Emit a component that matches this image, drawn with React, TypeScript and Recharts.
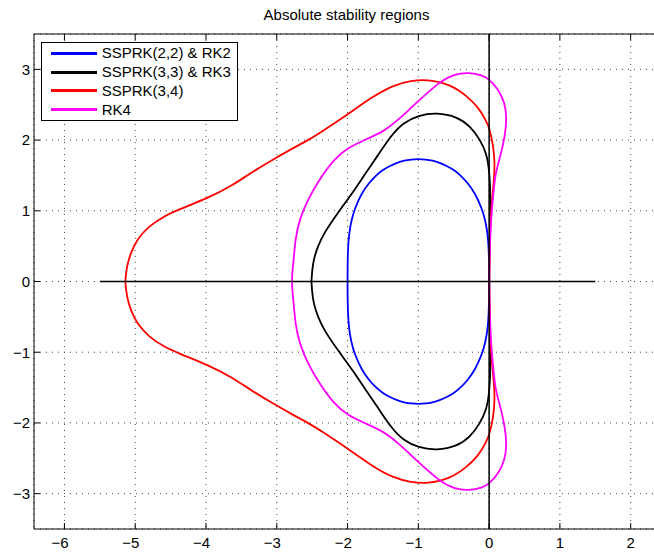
import { LineChart, Line, XAxis, YAxis, CartesianGrid, ReferenceLine } from 'recharts';

type Pt = [number, number];

const xTicks = [-6, -5, -4, -3, -2, -1, 0, 1, 2];
const yTicks = [-3, -2, -1, 0, 1, 2, 3];
const xDomain: [number, number] = [-6.43, 2.4];
const yDomain: [number, number] = [-3.5, 3.5];

// boundaries, closed loops starting at the leftmost point
const rk2: Pt[] = [
  [-2.0, 0.0], [-2.0, 0.2], [-1.995, 0.46], [-1.98, 0.66], [-1.95, 0.85], [-1.9, 1.03],
  [-1.8, 1.25], [-1.7, 1.39], [-1.6, 1.5], [-1.5, 1.58], [-1.4, 1.635], [-1.3, 1.68],
  [-1.2, 1.71], [-1.1, 1.726], [-1.0, 1.732], [-0.9, 1.726], [-0.8, 1.71], [-0.7, 1.68],
  [-0.6, 1.635], [-0.5, 1.58], [-0.4, 1.5], [-0.3, 1.39], [-0.2, 1.25], [-0.1, 1.03],
  [-0.05, 0.85], [-0.02, 0.66], [-0.005, 0.46], [0.0, 0.2], [0.0, 0.0],
  [0.0, -0.2], [-0.005, -0.46], [-0.02, -0.66], [-0.05, -0.85], [-0.1, -1.03], [-0.2, -1.25],
  [-0.3, -1.39], [-0.4, -1.5], [-0.5, -1.58], [-0.6, -1.635], [-0.7, -1.68], [-0.8, -1.71],
  [-0.9, -1.726], [-1.0, -1.732], [-1.1, -1.726], [-1.2, -1.71], [-1.3, -1.68], [-1.4, -1.635],
  [-1.5, -1.58], [-1.6, -1.5], [-1.7, -1.39], [-1.8, -1.25], [-1.9, -1.03], [-1.95, -0.85],
  [-1.98, -0.66], [-1.995, -0.46], [-2.0, -0.2], [-2.0, 0.0],
];

const rk3: Pt[] = [
  [-2.51, 0.0], [-2.5, 0.16], [-2.48, 0.31], [-2.42, 0.5], [-2.33, 0.69], [-2.14, 0.97],
  [-1.93, 1.25], [-1.74, 1.54], [-1.58, 1.77], [-1.39, 2.06], [-1.21, 2.25], [-1.0, 2.35],
  [-0.74, 2.39], [-0.45, 2.33], [-0.27, 2.2], [-0.13, 2.01], [-0.04, 1.82], [0.0, 1.6],
  [0.02, 1.26], [0.015, 0.8], [0.005, 0.4], [0.0, 0.0],
  [0.005, -0.4], [0.015, -0.8], [0.02, -1.26], [0.0, -1.6], [-0.04, -1.82], [-0.13, -2.01],
  [-0.27, -2.2], [-0.45, -2.33], [-0.74, -2.39], [-1.0, -2.35], [-1.21, -2.25], [-1.39, -2.06],
  [-1.58, -1.77], [-1.74, -1.54], [-1.93, -1.25], [-2.14, -0.97], [-2.33, -0.69], [-2.42, -0.5],
  [-2.48, -0.31], [-2.5, -0.16], [-2.51, 0.0],
];

const ssprk34: Pt[] = [
  [-5.14, 0.0], [-5.12, 0.22], [-5.06, 0.41], [-4.98, 0.59], [-4.81, 0.78], [-4.6, 0.92],
  [-4.38, 1.02], [-3.97, 1.18], [-3.64, 1.35], [-3.36, 1.54], [-3.08, 1.71], [-2.8, 1.87],
  [-2.52, 2.02], [-2.38, 2.11], [-2.0, 2.36], [-1.67, 2.6], [-1.35, 2.78], [-1.1, 2.84],
  [-0.88, 2.86], [-0.55, 2.79], [-0.31, 2.62], [-0.15, 2.46], [-0.04, 2.27], [0.01, 2.15],
  [0.06, 1.91], [0.08, 1.68], [0.07, 1.44], [0.04, 1.16], [0.015, 0.78], [0.005, 0.4], [0.0, 0.0],
  [0.005, -0.4], [0.015, -0.78], [0.04, -1.16], [0.07, -1.44], [0.08, -1.68], [0.06, -1.91],
  [0.01, -2.15], [-0.04, -2.27], [-0.15, -2.46], [-0.31, -2.62], [-0.55, -2.79], [-0.88, -2.86],
  [-1.1, -2.84], [-1.35, -2.78], [-1.67, -2.6], [-2.0, -2.36], [-2.38, -2.11], [-2.52, -2.02],
  [-2.8, -1.87], [-3.08, -1.71], [-3.36, -1.54], [-3.64, -1.35], [-3.97, -1.18], [-4.38, -1.02],
  [-4.6, -0.92], [-4.81, -0.78], [-4.98, -0.59], [-5.06, -0.41], [-5.12, -0.22], [-5.14, 0.0],
];

const rk4: Pt[] = [
  [-2.785, 0.0], [-2.78, 0.15], [-2.76, 0.31], [-2.74, 0.59], [-2.68, 0.88], [-2.56, 1.16],
  [-2.4, 1.44], [-2.19, 1.73], [-2.0, 1.89], [-1.74, 2.01], [-1.49, 2.12], [-1.28, 2.29],
  [-1.13, 2.43], [-0.97, 2.58], [-0.69, 2.83], [-0.5, 2.93], [-0.29, 2.96], [-0.08, 2.91],
  [0.0, 2.86], [0.13, 2.72], [0.22, 2.53], [0.25, 2.32], [0.225, 2.06], [0.16, 1.77],
  [0.09, 1.54], [0.06, 1.25], [0.03, 0.92], [0.01, 0.5], [0.0, 0.0],
  [0.01, -0.5], [0.03, -0.92], [0.06, -1.25], [0.09, -1.54], [0.16, -1.77], [0.225, -2.06],
  [0.25, -2.32], [0.22, -2.53], [0.13, -2.72], [0.0, -2.86], [-0.08, -2.91], [-0.29, -2.96],
  [-0.5, -2.93], [-0.69, -2.83], [-0.97, -2.58], [-1.13, -2.43], [-1.28, -2.29], [-1.49, -2.12],
  [-1.74, -2.01], [-2.0, -1.89], [-2.19, -1.73], [-2.4, -1.44], [-2.56, -1.16], [-2.68, -0.88],
  [-2.74, -0.59], [-2.76, -0.31], [-2.78, -0.15], [-2.785, 0.0],
];

const realAxis: Pt[] = [[-5.5, 0], [1.5, 0]];
const imagAxis: Pt[] = [[0, -3.5], [0, 3.5]];

const series = [
  { name: 'SSPRK(2,2) & RK2', color: '#0000ff', pts: rk2 },
  { name: 'SSPRK(3,3) & RK3', color: '#000000', pts: rk3 },
  { name: 'SSPRK(3,4)', color: '#ff0000', pts: ssprk34 },
  { name: 'RK4', color: '#ff00ff', pts: rk4 },
];

const toRows = (pts: Pt[]) => pts.map(([x, y]) => ({ x, y }));

const FONT = '"Liberation Sans", Arial, Helvetica, sans-serif';
const PLOT_TOP = 34;
const PLOT_BOTTOM = 529;
const PLOT_LEFT = 34;

const fmt = (v: number) => (v < 0 ? `\u2212${-v}` : `${v}`);

function XTick(props: any) {
  const { x, payload } = props;
  const v = payload.value as number;
  return (
    <g>
      <line x1={x} x2={x} y1={PLOT_BOTTOM} y2={PLOT_BOTTOM - 6} stroke="#000" />
      <line x1={x} x2={x} y1={PLOT_TOP} y2={PLOT_TOP + 6} stroke="#000" />
      <text
        x={v < 0 ? x + 4.2 : x}
        y={548}
        textAnchor={v < 0 ? 'end' : 'middle'}
        fontSize={15}
        fontFamily={FONT}
        fill="#000"
      >
        {fmt(v)}
      </text>
    </g>
  );
}

function YTick(props: any) {
  const { y, payload } = props;
  const v = payload.value as number;
  return (
    <g>
      <line x1={PLOT_LEFT} x2={PLOT_LEFT + 6} y1={y} y2={y} stroke="#000" />
      <text x={30} y={y + 5.4} textAnchor="end" fontSize={15} fontFamily={FONT} fill="#000">
        {fmt(v)}
      </text>
    </g>
  );
}

export default function App() {
  return (
    <div
      style={{
        position: 'absolute',
        left: 0,
        top: 0,
        width: 654,
        height: 555,
        overflow: 'hidden',
        background: '#fff',
        fontFamily: FONT,
      }}
    >
      <LineChart width={680} height={555} margin={{ top: 34, right: 21, bottom: 0, left: 0 }}>
        <CartesianGrid stroke="#444" strokeDasharray="1 5" />
        <XAxis
          dataKey="x"
          type="number"
          domain={xDomain}
          ticks={xTicks}
          allowDataOverflow
          height={26}
          axisLine={{ stroke: '#000' }}
          tickLine={false}
          tick={<XTick />}
        />
        <YAxis
          type="number"
          domain={yDomain}
          ticks={yTicks}
          allowDataOverflow
          width={34}
          axisLine={{ stroke: '#000' }}
          tickLine={false}
          tick={<YTick />}
        />
        <ReferenceLine y={3.5} stroke="#000" />
        {series.map((s) => (
          <Line
            key={s.name}
            data={toRows(s.pts)}
            dataKey="y"
            type="basis"
            stroke={s.color}
            strokeWidth={1.8}
            dot={false}
            activeDot={false}
            isAnimationActive={false}
          />
        ))}
        <Line
          data={toRows(realAxis)}
          dataKey="y"
          type="linear"
          stroke="#000"
          strokeWidth={1.5}
          dot={false}
          activeDot={false}
          isAnimationActive={false}
        />
        <Line
          data={toRows(imagAxis)}
          dataKey="y"
          type="linear"
          stroke="#000"
          strokeWidth={1.5}
          dot={false}
          activeDot={false}
          isAnimationActive={false}
        />
      </LineChart>

      <div
        style={{
          position: 'absolute',
          left: 34,
          width: 625,
          top: 6,
          textAlign: 'center',
          fontSize: 15,
          lineHeight: '18px',
          color: '#000',
        }}
      >
        Absolute stability regions
      </div>

      <div
        style={{
          position: 'absolute',
          left: 41,
          top: 42,
          width: 195,
          height: 75,
          padding: '1px 0',
          border: '1px solid #000',
          background: '#fff',
        }}
      >
        {series.map((s) => (
          <div key={s.name} style={{ display: 'flex', alignItems: 'center', height: 18.75 }}>
            <div style={{ marginLeft: 8.7, width: 46, height: 3, background: s.color }} />
            <span style={{ marginLeft: 5, fontSize: 15, lineHeight: '18px', whiteSpace: 'nowrap' }}>
              {s.name}
            </span>
          </div>
        ))}
      </div>
    </div>
  );
}
